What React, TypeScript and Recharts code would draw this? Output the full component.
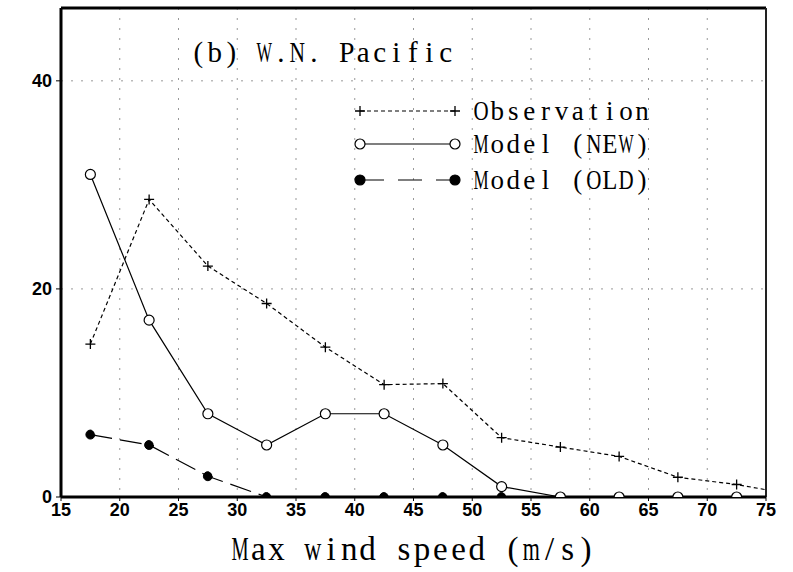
import { LineChart, XAxis, YAxis, Line, CartesianGrid, ReferenceLine, Customized } from "recharts";

// wind speed bin centres (m/s); 77.5 only carries the observation line off the right edge
const speeds = [17.5, 22.5, 27.5, 32.5, 37.5, 42.5, 47.5, 52.5, 57.5, 62.5, 67.5, 72.5, 77.5];
const observation = [14.7, 28.6, 22.2, 18.6, 14.4, 10.8, 10.9, 5.7, 4.8, 3.9, 1.9, 1.2, 0.2];
const modelNew = [31, 17, 8, 5, 8, 8, 5, 1, 0, 0, 0, 0, null];
const modelOld = [6, 5, 2, 0, 0, 0, 0, 0, null, null, null, null, null];

const xTicks = [15, 20, 25, 30, 35, 40, 45, 50, 55, 60, 65, 70, 75];
const yTicks = [0, 20, 40];

const data = speeds.map((x, i) => ({
  x,
  obs: observation[i],
  newM: modelNew[i],
  oldM: modelOld[i],
}));

const SERIF = '"Liberation Serif", "DejaVu Serif", serif';
const TICK = { fill: '#000', fontFamily: '"Liberation Sans", Arial, sans-serif', fontWeight: 700, fontSize: 18 };

let ctx: CanvasRenderingContext2D | null = null;
const glyphWidth = (c: string, size: number) => {
  if (!ctx) ctx = document.createElement('canvas').getContext('2d');
  if (!ctx) return size * 0.5;
  ctx.font = `${size}px ${SERIF}`;
  return ctx.measureText(c).width;
};

// serif glyphs centred on a fixed pitch, like the plotting package's stroke font;
// glyphs wider than a cell get squeezed to fit it
const PitchText = ({ x, y, size, pitch, text }: any) => (
  <g fontFamily={SERIF} fontSize={size} fill="#000" textAnchor="middle">
    {text.split('').map((c: string, i: number) => {
      if (c === ' ') return null;
      const cx = x + pitch * (i + 0.5);
      const s = Math.min(1, (pitch * 0.94) / glyphWidth(c, size));
      return (
        <text key={i} x={cx} y={y} transform={s < 1 ? `translate(${cx},0) scale(${s},1) translate(${-cx},0)` : undefined}>
          {c}
        </text>
      );
    })}
  </g>
);

const Plus = (props: any) => {
  const { cx, cy } = props;
  if (cx == null || cy == null) return null;
  return <path d={`M${cx - 5},${cy}H${cx + 5}M${cx},${cy - 5}V${cy + 5}`} stroke="#000" strokeWidth={1.3} fill="none" />;
};

const Annotations = () => {
  const rows = [
    { y: 111, label: 'Observation', dash: '4 3', mark: 'plus' },
    { y: 144, label: 'Model (NEW)', dash: undefined, mark: 'open' },
    { y: 180, label: 'Model (OLD)', dash: '24 14', mark: 'filled' },
  ];
  const x1 = 360;
  const x2 = 455;
  return (
    <g>
      <PitchText x={190} y={62} size={29} pitch={16.5} text="(b) W.N. Pacific" />
      {rows.map((r) => (
        <g key={r.label}>
          <line x1={x1} y1={r.y} x2={x2} y2={r.y} stroke="#000" strokeWidth={1.2} strokeDasharray={r.dash} />
          {[x1, x2].map((cx) =>
            r.mark === 'plus' ? (
              <Plus key={cx} cx={cx} cy={r.y} />
            ) : (
              <circle key={cx} cx={cx} cy={r.y} r={5} fill={r.mark === 'open' ? '#fff' : '#000'} stroke="#000" strokeWidth={1.2} />
            )
          )}
          <PitchText x={473} y={r.y + 9} size={27} pitch={16.1} text={r.label} />
        </g>
      ))}
    </g>
  );
};

const AxisTitle = () => <PitchText x={231} y={560} size={33} pitch={18.2} text="Max wind speed (m/s)" />;

export default function App() {
  return (
    <div style={{ position: 'absolute', left: 0, top: 0, background: '#fff' }}>
      <LineChart width={793} height={572} data={data} margin={{ top: 8, right: 27, bottom: 0, left: 0 }}>
        <CartesianGrid stroke="#999" strokeDasharray="2 8" />
        <XAxis
          dataKey="x"
          type="number"
          domain={[15, 75]}
          ticks={xTicks}
          allowDataOverflow
          height={75}
          axisLine={{ stroke: '#000', strokeWidth: 3 }}
          tickLine={{ stroke: '#000' }}
          tickSize={4}
          tickMargin={2}
          tick={TICK}
          label={<AxisTitle />}
        />
        <YAxis
          type="number"
          domain={[0, 47]}
          ticks={yTicks}
          allowDataOverflow
          width={61}
          axisLine={{ stroke: '#000', strokeWidth: 3 }}
          tickLine={{ stroke: '#000' }}
          tickSize={5}
          tickMargin={4}
          tick={TICK}
        />
        <ReferenceLine y={47} stroke="#000" strokeWidth={3} />
        <ReferenceLine x={75} stroke="#222" strokeWidth={2} />
        <Line
          dataKey="obs"
          stroke="#000"
          strokeWidth={1.2}
          strokeDasharray="4 3"
          dot={<Plus />}
          isAnimationActive={false}
        />
        <Line
          dataKey="newM"
          stroke="#000"
          strokeWidth={1.2}
          dot={{ r: 5, fill: '#fff', stroke: '#000', strokeWidth: 1.2 }}
          isAnimationActive={false}
        />
        <Line
          dataKey="oldM"
          stroke="#000"
          strokeWidth={1.2}
          strokeDasharray="22 8"
          dot={{ r: 4.5, fill: '#000', stroke: '#000', strokeWidth: 1 }}
          isAnimationActive={false}
        />
        <Customized component={Annotations} />
      </LineChart>
    </div>
  );
}
